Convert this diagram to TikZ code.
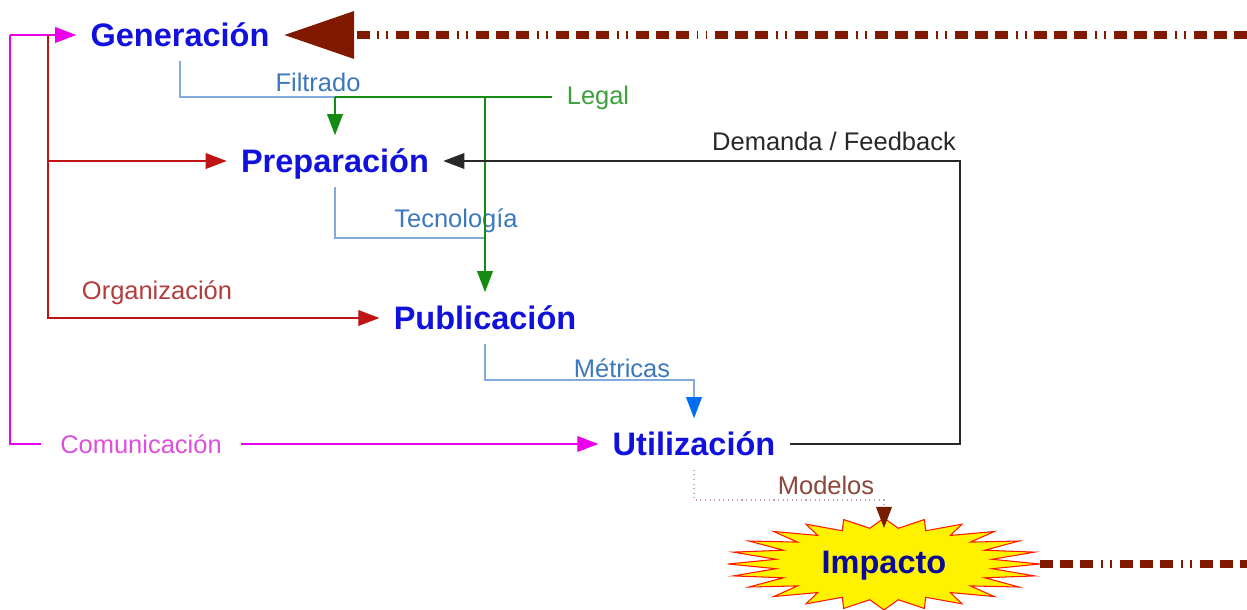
\documentclass[tikz,border=0pt]{standalone}
\usepackage{fontspec}
\setmainfont{Liberation Sans}
\usetikzlibrary{arrows.meta,calc}
\definecolor{stageblue}{RGB}{17,17,221}
\definecolor{impblue}{RGB}{10,10,150}
\definecolor{flowbrown}{RGB}{128,25,0}
\definecolor{filtblue}{RGB}{130,170,220}
\definecolor{filttext}{RGB}{60,120,190}
\definecolor{legalgreen}{RGB}{20,140,20}
\definecolor{legaltext}{RGB}{60,160,60}
\definecolor{orgred}{RGB}{190,20,20}
\definecolor{orgtext}{RGB}{180,60,60}
\definecolor{commag}{RGB}{235,0,235}
\definecolor{comtext}{RGB}{220,80,220}
\definecolor{metarrow}{RGB}{0,110,240}
\definecolor{fbgray}{RGB}{40,40,40}
\definecolor{modgray}{RGB}{200,160,160}
\definecolor{modtext}{RGB}{140,70,60}
\definecolor{modarrow}{RGB}{120,30,0}
\tikzstyle{stage}=[font=\fontsize{18.5}{20}\selectfont\bfseries, text=stageblue, text height=13pt, text depth=0pt, inner sep=8pt]
\tikzstyle{tag}=[font=\fontsize{14.5}{16}\selectfont, inner sep=2pt]
\tikzstyle{link}=[draw, line width=0.6pt]
\tikzstyle{tip}=[-{Triangle[length=12pt,width=9pt]}]
\tikzstyle{flow}=[draw=flowbrown, line width=4.5pt, dash pattern=on 7.4pt off 4pt on 7.4pt off 4pt on 7.4pt off 4.5pt on 1.1pt off 4pt on 1.1pt off 4.5pt]
\tikzstyle{burst}=[fill=yellow, draw=red!80!orange, line width=0.6pt, line join=miter]

\begin{document}
\begin{tikzpicture}[x=0.02cm, y=-0.02cm]
    \useasboundingbox (0,0) rectangle (1247,609);

    \foreach \pos/ \name/ \text in {{(180,35)/gen/Generación},{(335,161)/prep/Preparación},{(485,318)/pub/Publicación},{(694,444)/util/Utilización}}
        \node[stage] (\name) at \pos {\text};

    % Impacto
    \filldraw[burst] plot[domain=0:48, samples=49, variable=\k]
        ({884+ifthenelse(mod(\k,2)==0,156,109)*cos(7.5*\k)}, {564+ifthenelse(mod(\k,2)==0,46,36)*sin(7.5*\k)}) -- cycle;
    \node[stage, text=impblue] (imp) at (884,562) {Impacto};

    % Organizacion y comunicacion
    \coordinate (c) at (10,35);
    \coordinate (o) at (48,35);
    \draw[link, commag, tip] (c) -- (gen.west);
    \draw[link, commag, tip] (c) |- (util.west);
    \draw[link, orgred, tip] (o) |- (pub.west);
    \draw[link, orgred, tip] (o |- prep.west) -- (prep.west);
    \node[tag, text=orgtext] (org) at (157,293) {Organización};
    \node[tag, text=comtext, fill=white, inner xsep=11pt] (com) at (141,444) {Comunicación};

    % Filtrado, tecnologia, legal
    \coordinate (lj) at (335,97);
    \coordinate (lk) at (485,97);
    \coordinate (tj) at (485,238);
    \draw[link, filtblue] (gen.south) |- (lj);
    \draw[link, filtblue] (prep.south) |- (tj);
    \node[tag, text=filttext] (filt) at (318,82) {Filtrado};
    \node[tag, text=filttext] (tec) at (456,221) {Tecnología};
    \node[tag, text=legaltext, inner xsep=8pt] (legal) at (598,98) {Legal};
    \draw[link, legalgreen] (lj -| legal.west) -- (lj);
    \draw[link, legalgreen, tip] (lj) -- (prep.north);
    \draw[link, legalgreen, tip] (lk) -- (pub.north);

    % Metricas
    \coordinate (mj) at (485,380);
    \draw[link, filtblue, -{Triangle[length=12pt,width=9pt,color=metarrow]}] (pub.south) -- (mj) -| (util.north);
    \node[tag, text=filttext] (met) at (622,368) {Métricas};

    % Demanda / Feedback
    \coordinate (fb) at (960,300);
    \draw[link, fbgray, tip] (util.east) -| (fb) |- (prep.east);
    \node[tag, text=fbgray] (dem) at (834,141) {Demanda / Feedback};

    % Modelos
    \coordinate (mm) at (694,500);
    \coordinate (it) at (884,528);
    \draw[link, modgray, dotted, -{Triangle[length=12pt,width=9pt,color=modarrow]}] (util.south) -- (mm) -| (it);
    \node[tag, text=modtext] (mod) at (826,485) {Modelos};

    % flujo de impacto
    \coordinate (r1) at (1247,35);
    \coordinate (r2) at (1247,564);
    \coordinate (ie) at (1040,564);
    \draw[flow, -{Triangle[length=40pt,width=26pt]}] (r1) -- (gen.east);
    \draw[flow] (ie) -- (r2);

\end{tikzpicture}
\end{document}
